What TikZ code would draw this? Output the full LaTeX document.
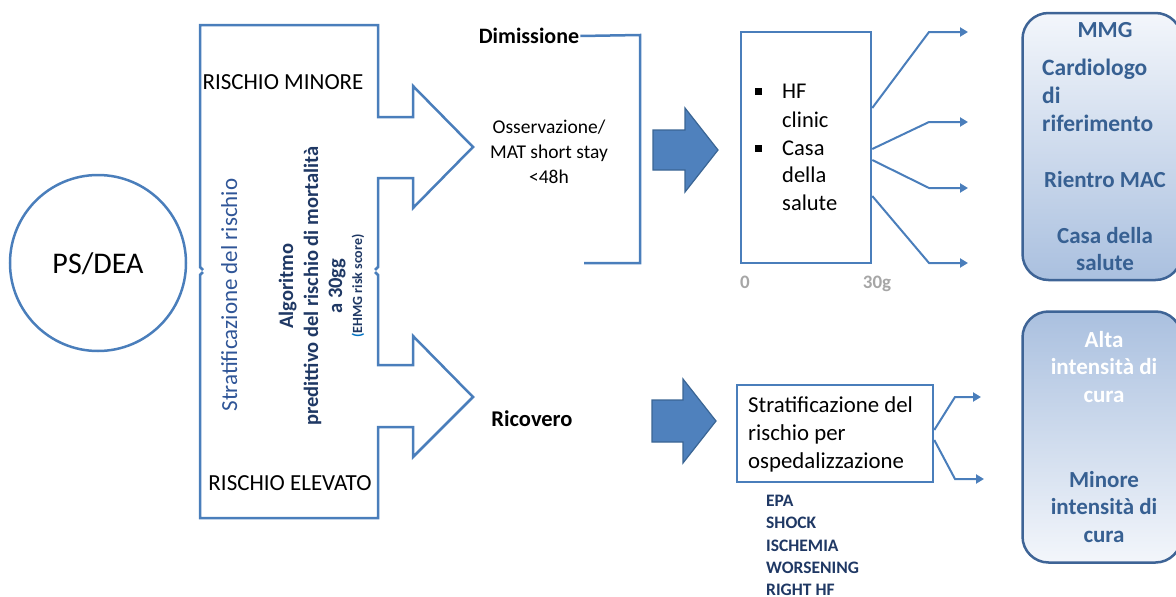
\documentclass[tikz,border=0pt]{standalone}
\usepackage{fontspec}
\setmainfont{Carlito}
\usetikzlibrary{arrows.meta}
\definecolor{lineblue}{HTML}{4A7EBB}
\definecolor{arrfill}{HTML}{4F81BD}
\definecolor{arrdraw}{HTML}{3A6594}
\definecolor{navy}{HTML}{1F3864}
\definecolor{midblue}{HTML}{2F5597}
\definecolor{parblue}{HTML}{0070C0}
\definecolor{boxtext}{HTML}{376092}
\definecolor{boxborder}{HTML}{3E6496}
\definecolor{greytxt}{HTML}{A6A6A6}
\definecolor{gradA}{HTML}{F3F6FB}
\definecolor{gradB}{HTML}{AAC0DF}
\newcommand{\fsz}[1]{\fontsize{#1}{#1}\selectfont}
\begin{document}
\begin{tikzpicture}[x=1pt,y=-1pt,
  outline/.style={draw=lineblue,line width=2.5pt,line join=miter},
  conn/.style={draw=lineblue,line width=2pt,-{Triangle[length=8pt,width=9pt]}},
  txt/.style={inner sep=0pt,anchor=base},
  txtw/.style={inner sep=0pt,anchor=base west},
  bigarrow/.style={fill=arrfill,draw=arrdraw,line width=1.2pt,line join=miter},
  roundbox/.style={draw=boxborder,line width=2.5pt,rounded corners=26pt,minimum width=159pt},
  bullet/.style={fill=black,inner sep=0pt,minimum size=7pt}
]
\useasboundingbox (0,0) rectangle (1176,597);

% PS/DEA circle
\node[draw=lineblue,line width=2.5pt,circle,minimum size=176pt,inner sep=0pt] (ps) at (98,263) {};
\node[txt] (pstext) at (98,273) {\fsz{30}PS/DEA};

% upper risk arrow
\path[outline] (203,270) -- (200,267) -- (200,25) -- (378,25) -- (378,117) -- (413,117) -- (413,86)
  -- (473,147) -- (413,208) -- (413,178) -- (378,178) -- (378,267) -- (375,270);
% lower risk arrow
\path[outline] (203,272) -- (200,275) -- (200,518) -- (378,518) -- (378,427) -- (413,427) -- (413,457)
  -- (473,397) -- (413,336) -- (413,365) -- (378,365) -- (378,275) -- (375,272);

\node[txt] (minore) at (283,89) {\fsz{23}RISCHIO MINORE};
\node[txt] (elevato) at (290,490) {\fsz{23}RISCHIO ELEVATO};

% vertical texts
\node[txt,rotate=90,text=midblue] (strat) at (237,295) {\fsz{23}Stratificazione del rischio};
\node[txt,rotate=90,text=navy] (alg1) at (293,286) {\fsz{20.5}\bfseries Algoritmo};
\node[txt,rotate=90,text=navy] (alg2) at (318,286) {\fsz{20.5}\bfseries predittivo del rischio di mortalità};
\node[txt,rotate=90,text=navy] (alg3) at (342,286) {\fsz{20.5}\bfseries a 30gg};
\node[txt,rotate=90,text=navy] (alg4) at (362,286) {\fsz{14}\bfseries\textcolor{parblue}{(}EHMG risk score)};

% Dimissione bracket
\node[txt] (dim) at (529,43) {\fsz{22}\bfseries Dimissione};
\coordinate (dimend) at (584,263);
\path[outline] ([xshift=1pt,yshift=7pt]dim.base east) -- (640,35) -- (640,263) -- (dimend);
\node[txt] (oss1) at (549,133) {\fsz{19.5}Osservazione/};
\node[txt] (oss2) at (549,158) {\fsz{19.5}MAT short stay};
\node[txt] (oss3) at (549,183) {\fsz{19.5}<48h};

\node[txt] (ricovero) at (532,426) {\fsz{22.5}\bfseries Ricovero};

% big filled arrows
\path[bigarrow] (653,130) -- (685,130) -- (685,108) -- (718,150) -- (685,192) -- (685,170) -- (653,170) -- cycle;
\path[bigarrow] (652,400) -- (683,400) -- (683,379) -- (716,421) -- (683,463) -- (683,442) -- (652,442) -- cycle;

% HF box
\node[draw=lineblue,line width=2.5pt,minimum width=130pt,minimum height=231pt,inner sep=0pt] (hf) at (806,147.5) {};
\node[bullet] (b1) at (758,91) {};
\node[bullet] (b2) at (758,148) {};
\node[txtw] (hf1) at (782,98) {\fsz{22.5}HF};
\node[txtw] (hf2) at (782,127) {\fsz{22.5}clinic};
\node[txtw] (hf3) at (782,155) {\fsz{22.5}Casa};
\node[txtw] (hf4) at (782,182) {\fsz{22.5}della};
\node[txtw] (hf5) at (782,210) {\fsz{22.5}salute};
\node[txt,text=greytxt] (zero) at (745,288) {\fsz{19}\bfseries 0};
\node[txt,text=greytxt] (thirty) at (877,288) {\fsz{19}\bfseries 30g};

\coordinate (t1) at (968,32);
\coordinate (t2) at (968,122);
\coordinate (t3) at (968,188);
\coordinate (t4) at (968,263);
\draw[conn] ([yshift=39.5pt]hf.east) -- (929,32) -- (t1);
\draw[conn] ([yshift=-1.5pt]hf.east) -- (929,122) -- (t2);
\draw[conn] ([yshift=-12.5pt]hf.east) -- (929,188) -- (t3);
\draw[conn] ([yshift=-48.5pt]hf.east) -- (929,263) -- (t4);

% top rounded box
\node[roundbox,minimum height=267pt,top color=gradA,bottom color=gradB] (topbox) at (1102,146.5) {};
\node[txt,text=boxtext] (mmg) at (1105,37) {\fsz{23}\bfseries MMG};
\node[txtw,text=boxtext] (card1) at (1042,75) {\fsz{23.5}\bfseries Cardiologo};
\node[txtw,text=boxtext] (card2) at (1042,103) {\fsz{23.5}\bfseries di};
\node[txtw,text=boxtext] (card3) at (1042,131) {\fsz{23.5}\bfseries riferimento};
\node[txt,text=boxtext] (mac) at (1105,187) {\fsz{23}\bfseries Rientro MAC};
\node[txt,text=boxtext] (casa1) at (1105,243) {\fsz{23}\bfseries Casa della};
\node[txt,text=boxtext] (casa2) at (1105,270) {\fsz{23}\bfseries salute};

% lower stratification box
\node[draw=lineblue,line width=2.5pt,minimum width=196pt,minimum height=97pt,inner sep=0pt] (sb) at (835,433.5) {};
\node[txtw] (sb1) at (748,412) {\fsz{22.8}Stratificazione del};
\node[txtw] (sb2) at (748,440) {\fsz{22.8}rischio per};
\node[txtw] (sb3) at (748,468) {\fsz{22.8}ospedalizzazione};
\coordinate (u1) at (981,397);
\coordinate (u2) at (984,479);
\draw[conn] ([yshift=3.5pt]sb.east) -- (955,397) -- (u1);
\draw[conn] ([yshift=-6.5pt]sb.east) -- (955,479) -- (u2);

\node[txtw,text=navy] (l1) at (766,506) {\fsz{17.5}\bfseries EPA};
\node[txtw,text=navy] (l2) at (766,528) {\fsz{17.5}\bfseries SHOCK};
\node[txtw,text=navy] (l3) at (766,551) {\fsz{17.5}\bfseries ISCHEMIA};
\node[txtw,text=navy] (l4) at (766,573) {\fsz{17.5}\bfseries WORSENING};
\node[txtw,text=navy] (l5) at (766,595) {\fsz{17.5}\bfseries RIGHT HF};

% bottom rounded box
\node[roundbox,minimum height=251pt,top color=gradB,bottom color=gradA] (botbox) at (1102,437) {};
\node[txt,text=white] (alta1) at (1104,347) {\fsz{23}\bfseries Alta};
\node[txt,text=white] (alta2) at (1104,374) {\fsz{23}\bfseries intensità di};
\node[txt,text=white] (alta3) at (1104,402) {\fsz{23}\bfseries cura};
\node[txt,text=boxtext] (min1) at (1104,487) {\fsz{23}\bfseries Minore};
\node[txt,text=boxtext] (min2) at (1104,514) {\fsz{23}\bfseries intensità di};
\node[txt,text=boxtext] (min3) at (1104,542) {\fsz{23}\bfseries cura};
\end{tikzpicture}
\end{document}
